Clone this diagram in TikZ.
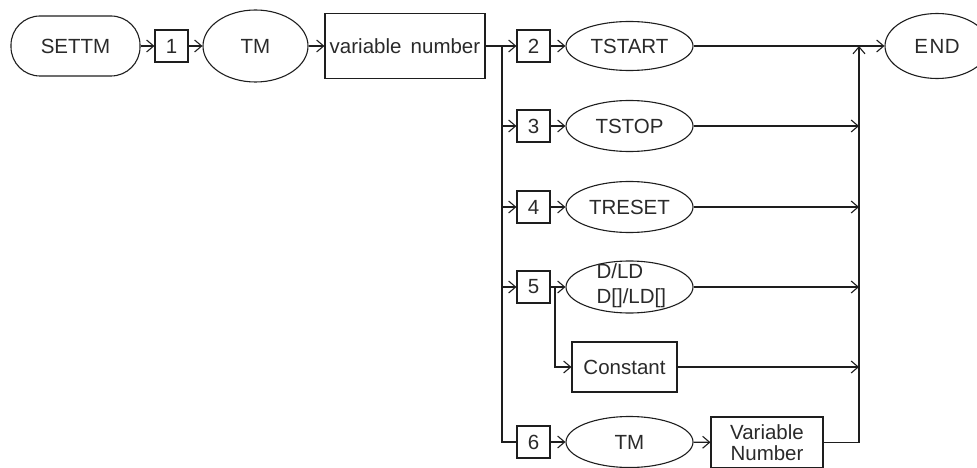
\documentclass[tikz,border=0pt]{standalone}
\usepackage{fontspec}
\setmainfont{Liberation Sans}
\usetikzlibrary{arrows.meta,shapes.geometric}
\definecolor{ink}{HTML}{1E1E1E}
\definecolor{txt}{HTML}{2A2A2A}
\begin{document}
\begin{tikzpicture}[x=1pt,y=-1pt,
  every node/.style={font=\fontsize{20.5}{25}\selectfont, text=txt, draw=ink, line width=1.1pt, inner sep=0pt},
  numbox/.style={rectangle, minimum width=33pt, minimum height=32pt},
  oval/.style={ellipse, minimum width=127pt, minimum height=51pt},
  stadium/.style={rectangle, rounded corners=29pt, minimum width=129pt, minimum height=60pt},
  bigbox/.style={rectangle},
  arr/.style={draw=ink, line width=1.1pt, -{Straight Barb[length=7pt,width=12pt]}},
  ln/.style={draw=ink, line width=1.1pt}
]
\useasboundingbox (0,0) rectangle (977,468);
% row 1
\node[stadium] (settm) at (75.5,46) {SETTM};
\node[numbox] (b1) at (171.5,46) {1};
\node[ellipse, minimum width=105pt, minimum height=72pt] (tm1) at (255.5,46) {TM};
\node[bigbox, minimum width=160pt, minimum height=65pt] (vn) at (405,46) {variable\hspace{0.45em}number};
\node[numbox] (b2) at (533.5,46) {2};
\node[oval, minimum height=49pt] (e2) at (629.5,46) {TSTART};
\node[ellipse, minimum width=104pt, minimum height=65pt] (end) at (937,46) {E\hspace{1.5pt}N\hspace{0.5pt}D};
% row 2
\node[numbox] (b3) at (533.5,126) {3};
\node[oval] (e3) at (629.5,126) {TSTOP};
% row 3
\node[numbox] (b4) at (533.5,207) {4};
\node[oval] (e4) at (629.5,207) {TRESET};
% row 4
\node[numbox] (b5) at (533.5,287) {5};
\node[oval, minimum height=52pt] (e5) at (629.5,287) {};
\node[draw=none, anchor=west, align=left] (t5) at (596,286) {D/LD\\D[]/LD[]};
% row 5
\node[bigbox, minimum width=105pt, minimum height=50pt] (const) at (624.5,367) {Constant};
% row 6
\node[numbox] (b6) at (533.5,442) {6};
\node[oval, minimum height=51pt] (e6) at (629.5,442) {TM};
\node[bigbox, minimum width=112pt, minimum height=51pt, align=center, font=\fontsize{20.5}{21}\selectfont] (vn2) at (767,442.5) {Variable\\Number};
% junctions
\coordinate (j0) at (502,46);
\coordinate (j6) at (502,442);
\coordinate (m0) at (859,46);
\coordinate (k5) at (555,287);
% connectors
\draw[arr] (settm) -- (b1);
\draw[arr] (b1) -- (tm1);
\draw[arr] (tm1) -- (vn);
\draw[arr] (vn) -- (b2);
\draw[ln] (j0) -- (j6) -- (b6.west);
\draw[arr] (j0 |- b3) -- (b3);
\draw[arr] (j0 |- b4) -- (b4);
\draw[arr] (j0 |- b5) -- (b5);
\draw[arr] (b2) -- (e2);
\draw[arr] (b3) -- (e3);
\draw[arr] (b4) -- (e4);
\draw[arr] (b5) -- (e5);
\draw[arr] (b6) -- (e6);
\draw[arr] (k5) |- (const.west);
\draw[arr] (e6) -- (vn2);
\draw[arr] (e2) -- (end);
\draw[arr] (e3.east) -- (m0 |- e3);
\draw[arr] (e4.east) -- (m0 |- e4);
\draw[arr] (e5.east) -- (m0 |- e5);
\draw[arr] (const.east) -- (m0 |- const);
\draw[arr] (vn2.east) -| (m0);
\end{tikzpicture}
\end{document}
